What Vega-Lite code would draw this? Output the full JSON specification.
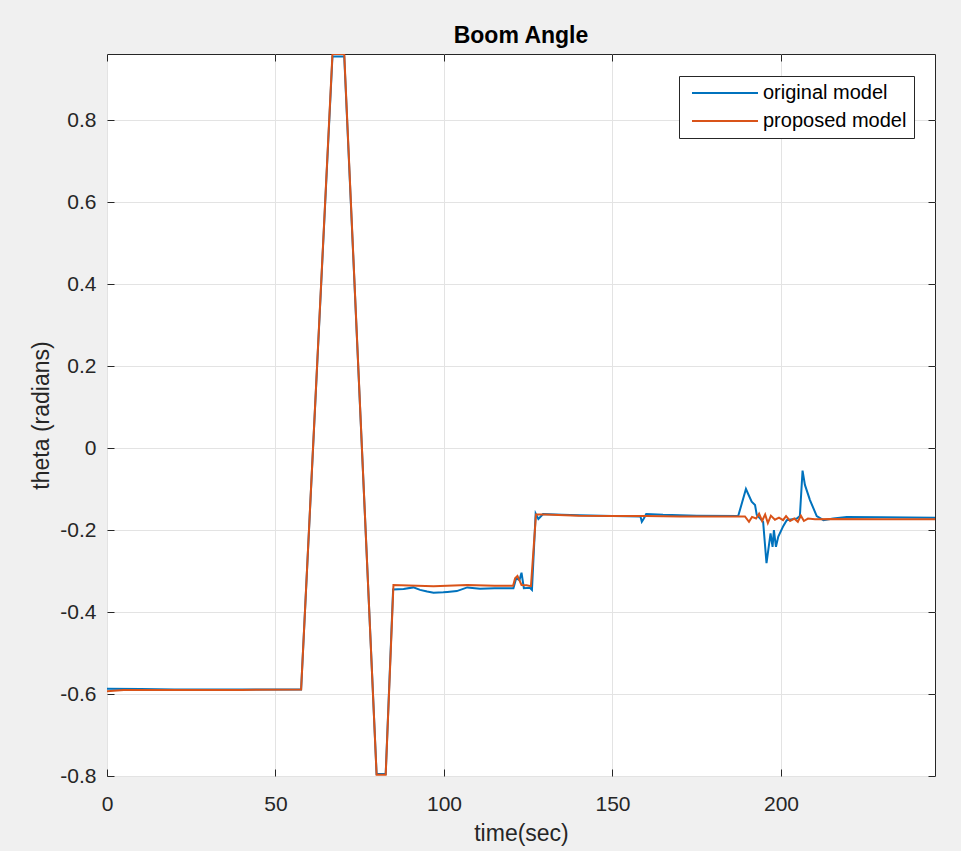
{
  "$schema": "https://vega.github.io/schema/vega-lite/v6.json",
  "width": 828,
  "height": 722,
  "autosize": {"type": "none"},
  "padding": {"left": 107, "top": 54, "right": 26, "bottom": 75},
  "background": "#f0f0f0",
  "title": {"text": "Boom Angle", "fontSize": 23, "font": "Liberation Sans", "fontWeight": "bold", "color": "#000000", "anchor": "middle", "baseline": "alphabetic", "offset": -12},
  "config": {
    "view": {"fill": "white", "stroke": "#262626", "strokeWidth": 1},
    "axis": {"grid": true, "gridColor": "#e3e3e3", "gridWidth": 1, "domain": false, "tickColor": "#262626", "tickSize": -7, "labelFlush": false, "labelFont": "Liberation Sans", "labelFontSize": 21, "labelColor": "#262626", "titleFont": "Liberation Sans", "titleFontSize": 23, "titleFontWeight": "normal", "titleColor": "#262626", "labelExpr": "'' + datum.value"},
    "legend": {"orient": "none", "legendX": 572, "legendY": 22, "symbolType": "stroke", "symbolSize": 4356, "symbolStrokeWidth": 2, "labelFont": "Liberation Sans", "labelFontSize": 20, "labelColor": "#000000", "strokeColor": "#262626", "fillColor": "white", "padding": 7, "clipHeight": 20, "rowPadding": 8, "labelOffset": 4, "symbolOffset": 5}
  },
  "data": {"values": [
    {"t": 0, "theta": -0.587, "model": "original model"},
    {"t": 10, "theta": -0.588, "model": "original model"},
    {"t": 20, "theta": -0.589, "model": "original model"},
    {"t": 30, "theta": -0.589, "model": "original model"},
    {"t": 40, "theta": -0.589, "model": "original model"},
    {"t": 50, "theta": -0.589, "model": "original model"},
    {"t": 57.6, "theta": -0.589, "model": "original model"},
    {"t": 66.9, "theta": 0.955, "model": "original model"},
    {"t": 70.4, "theta": 0.955, "model": "original model"},
    {"t": 80.0, "theta": -0.795, "model": "original model"},
    {"t": 82.7, "theta": -0.795, "model": "original model"},
    {"t": 84.9, "theta": -0.345, "model": "original model"},
    {"t": 88, "theta": -0.344, "model": "original model"},
    {"t": 90.9, "theta": -0.340, "model": "original model"},
    {"t": 92.9, "theta": -0.346, "model": "original model"},
    {"t": 95, "theta": -0.350, "model": "original model"},
    {"t": 96.9, "theta": -0.353, "model": "original model"},
    {"t": 99.8, "theta": -0.352, "model": "original model"},
    {"t": 101, "theta": -0.351, "model": "original model"},
    {"t": 103.8, "theta": -0.349, "model": "original model"},
    {"t": 106.9, "theta": -0.340, "model": "original model"},
    {"t": 110.7, "theta": -0.343, "model": "original model"},
    {"t": 115, "theta": -0.342, "model": "original model"},
    {"t": 120.6, "theta": -0.342, "model": "original model"},
    {"t": 121.4, "theta": -0.318, "model": "original model"},
    {"t": 122.4, "theta": -0.322, "model": "original model"},
    {"t": 123.0, "theta": -0.304, "model": "original model"},
    {"t": 123.7, "theta": -0.342, "model": "original model"},
    {"t": 125.5, "theta": -0.341, "model": "original model"},
    {"t": 126.1, "theta": -0.346, "model": "original model"},
    {"t": 127.2, "theta": -0.160, "model": "original model"},
    {"t": 128.0, "theta": -0.173, "model": "original model"},
    {"t": 129.4, "theta": -0.161, "model": "original model"},
    {"t": 135, "theta": -0.163, "model": "original model"},
    {"t": 140, "theta": -0.164, "model": "original model"},
    {"t": 150, "theta": -0.166, "model": "original model"},
    {"t": 158.3, "theta": -0.167, "model": "original model"},
    {"t": 158.7, "theta": -0.180, "model": "original model"},
    {"t": 159.3, "theta": -0.172, "model": "original model"},
    {"t": 160.0, "theta": -0.161, "model": "original model"},
    {"t": 165, "theta": -0.163, "model": "original model"},
    {"t": 175, "theta": -0.165, "model": "original model"},
    {"t": 187.3, "theta": -0.166, "model": "original model"},
    {"t": 189.6, "theta": -0.100, "model": "original model"},
    {"t": 191.3, "theta": -0.131, "model": "original model"},
    {"t": 192.3, "theta": -0.139, "model": "original model"},
    {"t": 192.8, "theta": -0.163, "model": "original model"},
    {"t": 194.7, "theta": -0.180, "model": "original model"},
    {"t": 195.7, "theta": -0.281, "model": "original model"},
    {"t": 196.9, "theta": -0.208, "model": "original model"},
    {"t": 197.5, "theta": -0.241, "model": "original model"},
    {"t": 197.9, "theta": -0.200, "model": "original model"},
    {"t": 198.5, "theta": -0.241, "model": "original model"},
    {"t": 199.2, "theta": -0.216, "model": "original model"},
    {"t": 200.7, "theta": -0.190, "model": "original model"},
    {"t": 201.7, "theta": -0.176, "model": "original model"},
    {"t": 204.7, "theta": -0.172, "model": "original model"},
    {"t": 205.6, "theta": -0.166, "model": "original model"},
    {"t": 206.4, "theta": -0.055, "model": "original model"},
    {"t": 207.1, "theta": -0.090, "model": "original model"},
    {"t": 208.6, "theta": -0.127, "model": "original model"},
    {"t": 210.6, "theta": -0.166, "model": "original model"},
    {"t": 212.6, "theta": -0.176, "model": "original model"},
    {"t": 215.5, "theta": -0.172, "model": "original model"},
    {"t": 219.5, "theta": -0.168, "model": "original model"},
    {"t": 230, "theta": -0.169, "model": "original model"},
    {"t": 245.7, "theta": -0.170, "model": "original model"},
    {"t": 0, "theta": -0.593, "model": "proposed model"},
    {"t": 5, "theta": -0.590, "model": "proposed model"},
    {"t": 20, "theta": -0.590, "model": "proposed model"},
    {"t": 40, "theta": -0.590, "model": "proposed model"},
    {"t": 57.6, "theta": -0.589, "model": "proposed model"},
    {"t": 66.9, "theta": 0.961, "model": "proposed model"},
    {"t": 70.4, "theta": 0.961, "model": "proposed model"},
    {"t": 80.0, "theta": -0.797, "model": "proposed model"},
    {"t": 82.7, "theta": -0.797, "model": "proposed model"},
    {"t": 85.0, "theta": -0.334, "model": "proposed model"},
    {"t": 96.9, "theta": -0.337, "model": "proposed model"},
    {"t": 106.9, "theta": -0.334, "model": "proposed model"},
    {"t": 115, "theta": -0.336, "model": "proposed model"},
    {"t": 120.5, "theta": -0.336, "model": "proposed model"},
    {"t": 121.1, "theta": -0.318, "model": "proposed model"},
    {"t": 121.8, "theta": -0.312, "model": "proposed model"},
    {"t": 123.0, "theta": -0.334, "model": "proposed model"},
    {"t": 124.5, "theta": -0.335, "model": "proposed model"},
    {"t": 125.8, "theta": -0.337, "model": "proposed model"},
    {"t": 127.3, "theta": -0.162, "model": "proposed model"},
    {"t": 130, "theta": -0.162, "model": "proposed model"},
    {"t": 140, "theta": -0.165, "model": "proposed model"},
    {"t": 150, "theta": -0.166, "model": "proposed model"},
    {"t": 160, "theta": -0.166, "model": "proposed model"},
    {"t": 170, "theta": -0.167, "model": "proposed model"},
    {"t": 189.3, "theta": -0.167, "model": "proposed model"},
    {"t": 190.5, "theta": -0.180, "model": "proposed model"},
    {"t": 191.4, "theta": -0.168, "model": "proposed model"},
    {"t": 192.6, "theta": -0.172, "model": "proposed model"},
    {"t": 193.5, "theta": -0.160, "model": "proposed model"},
    {"t": 194.4, "theta": -0.178, "model": "proposed model"},
    {"t": 195.3, "theta": -0.162, "model": "proposed model"},
    {"t": 196.1, "theta": -0.183, "model": "proposed model"},
    {"t": 197.0, "theta": -0.165, "model": "proposed model"},
    {"t": 198.2, "theta": -0.175, "model": "proposed model"},
    {"t": 199.4, "theta": -0.170, "model": "proposed model"},
    {"t": 200.6, "theta": -0.176, "model": "proposed model"},
    {"t": 201.5, "theta": -0.166, "model": "proposed model"},
    {"t": 202.7, "theta": -0.178, "model": "proposed model"},
    {"t": 203.9, "theta": -0.172, "model": "proposed model"},
    {"t": 205.0, "theta": -0.180, "model": "proposed model"},
    {"t": 205.9, "theta": -0.165, "model": "proposed model"},
    {"t": 206.8, "theta": -0.178, "model": "proposed model"},
    {"t": 208.0, "theta": -0.172, "model": "proposed model"},
    {"t": 210.1, "theta": -0.174, "model": "proposed model"},
    {"t": 215, "theta": -0.173, "model": "proposed model"},
    {"t": 230, "theta": -0.174, "model": "proposed model"},
    {"t": 245.7, "theta": -0.174, "model": "proposed model"}
  ]},
  "resolve": {"axis": {"x": "independent", "y": "independent"}},
  "layer": [
    {
      "transform": [{"filter": "datum.model == 'original model'"}],
      "mark": {"type": "line", "strokeWidth": 2, "clip": true},
      "encoding": {
        "x": {"field": "t", "type": "quantitative", "scale": {"domain": [0, 245.7], "nice": false, "zero": false}, "axis": {"values": [0, 50, 100, 150, 200], "title": "time(sec)", "labelPadding": 24, "titlePadding": 8}},
        "y": {"field": "theta", "type": "quantitative", "scale": {"domain": [-0.8, 0.961], "nice": false, "zero": false}, "axis": {"values": [-0.8, -0.6, -0.4, -0.2, 0, 0.2, 0.4, 0.6, 0.8], "title": "theta (radians)", "labelPadding": 18, "titlePadding": 6}},
        "color": {"field": "model", "type": "nominal", "scale": {"domain": ["original model", "proposed model"], "range": ["#0072BD", "#D95319"]}, "legend": {"title": null}}
      }
    },
    {
      "transform": [{"filter": "datum.model == 'proposed model'"}],
      "mark": {"type": "line", "strokeWidth": 2, "clip": true},
      "encoding": {
        "x": {"field": "t", "type": "quantitative", "axis": {"orient": "top", "values": [0, 50, 100, 150, 200], "labels": false, "title": null, "grid": false}},
        "y": {"field": "theta", "type": "quantitative", "axis": {"orient": "right", "values": [-0.8, -0.6, -0.4, -0.2, 0, 0.2, 0.4, 0.6, 0.8], "labels": false, "title": null, "grid": false}},
        "color": {"field": "model", "type": "nominal"}
      }
    }
  ]
}
